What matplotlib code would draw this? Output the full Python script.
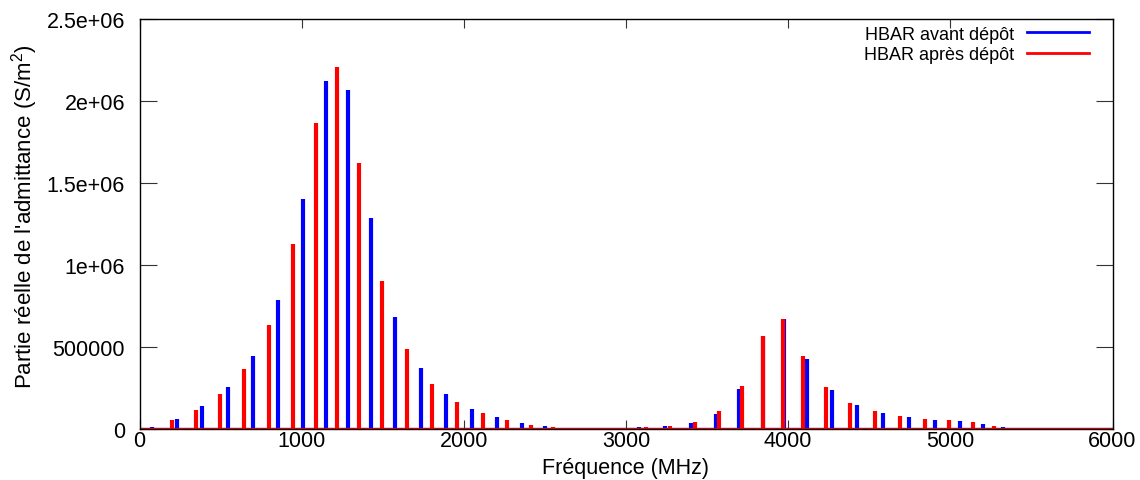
import matplotlib
matplotlib.use("Agg")
import matplotlib.pyplot as plt
from matplotlib.lines import Line2D

plt.rcParams['font.family'] = ['Liberation Sans', 'DejaVu Sans']
plt.rcParams['mathtext.fontset'] = 'custom'
plt.rcParams['mathtext.rm'] = 'Liberation Sans'
plt.rcParams['mathtext.it'] = 'Liberation Sans:italic'

# ---- data ----
freq_avant = [75, 231, 384, 544, 698, 856, 1006, 1148, 1284, 1426, 1576, 1733,
              1890, 2049, 2206, 2359, 2500, 2634, 3080, 3240, 3399, 3555, 3699,
              3843, 3976, 4114, 4268, 4424, 4583, 4745, 4905, 5059, 5203, 5327,
              5460, 5615]
adm_avant = [0.010e6, 0.060e6, 0.138e6, 0.255e6, 0.443e6, 0.789e6, 1.402e6,
             2.124e6, 2.069e6, 1.288e6, 0.684e6, 0.370e6, 0.212e6, 0.124e6,
             0.073e6, 0.036e6, 0.016e6, 0.006e6, 0.010e6, 0.020e6, 0.035e6,
             0.091e6, 0.243e6, 0.566e6, 0.669e6, 0.425e6, 0.238e6, 0.146e6,
             0.099e6, 0.073e6, 0.056e6, 0.049e6, 0.032e6, 0.014e6, 0.005e6,
             0.003e6]

freq_apres = [202, 347, 495, 644, 797, 945, 1087, 1218, 1352, 1498, 1648, 1802,
              1960, 2116, 2268, 2414, 2548, 2685, 3123, 3271, 3425, 3573, 3715,
              3845, 3966, 4093, 4235, 4382, 4534, 4690, 4842, 4994, 5138, 5269,
              5393]
adm_apres = [0.053e6, 0.113e6, 0.212e6, 0.368e6, 0.637e6, 1.129e6, 1.863e6,
             2.209e6, 1.622e6, 0.904e6, 0.487e6, 0.273e6, 0.164e6, 0.097e6,
             0.056e6, 0.026e6, 0.012e6, 0.005e6, 0.010e6, 0.020e6, 0.042e6,
             0.107e6, 0.265e6, 0.568e6, 0.673e6, 0.447e6, 0.257e6, 0.160e6,
             0.107e6, 0.081e6, 0.063e6, 0.053e6, 0.041e6, 0.020e6, 0.006e6]

x_ticks = [0, 1000, 2000, 3000, 4000, 5000, 6000]
y_ticks = [0, 500000, 1000000, 1500000, 2000000, 2500000]
y_tick_labels = ["0", "500000", "1e+06", "1.5e+06", "2e+06", "2.5e+06"]

label_avant = "HBAR avant dépôt"
label_apres = "HBAR après dépôt"
xlabel = "Fréquence (MHz)"
ylabel = "Partie réelle de l'admittance (S/m$^2$)"

BLUE = "#0000ff"
RED = "#ff0000"
FS = 15.5

# ---- figure ----
W, H = 1140, 481
fig = plt.figure(figsize=(W / 100, H / 100), dpi=100)
ax = fig.add_axes([139.5 / W, 1 - 430 / H, (1112.5 - 139.5) / W, (430 - 20) / H])

ax.axhline(0, color=BLUE, lw=1.6, zorder=2)
ax.vlines(freq_avant, 0, adm_avant, color=BLUE, lw=3.0, capstyle='butt', zorder=2)
ax.axhline(0, color=RED, lw=1.6, zorder=3)
ax.vlines(freq_apres, 0, adm_apres, color=RED, lw=3.0, capstyle='butt', zorder=3)

ax.set_xlim(0, 6000)
ax.set_ylim(0, 2.5e6)
ax.set_xticks(x_ticks)
ax.set_xticklabels([str(v) for v in x_ticks])
ax.set_yticks(y_ticks)
ax.set_yticklabels(y_tick_labels)

ax.tick_params(axis='both', direction='in', top=True, right=True,
               labelsize=FS, width=0.8, color='#333333')
ax.tick_params(axis='x', length=6.8, pad=1.0)
ax.tick_params(axis='y', length=12.2, pad=10.4)
for sp in ax.spines.values():
    sp.set_linewidth(1.0)
    sp.set_color('black')
    sp.set_zorder(5)

ax.set_xlabel(xlabel, fontsize=FS, labelpad=4.0)
ax.set_ylabel(ylabel, fontsize=16)
ax.yaxis.set_label_coords((39.6 - 139.5) / 973, 0.52)

handles = [Line2D([], [], color=BLUE, lw=2), Line2D([], [], color=RED, lw=2)]
ax.legend(handles, [label_avant, label_apres], loc='upper right',
          bbox_to_anchor=(1088.5 / W, 1 - 26.5 / H), bbox_transform=fig.transFigure,
          frameon=False, markerfirst=False, fontsize=13, handlelength=3.38,
          handletextpad=0.72, labelspacing=0.2, borderpad=0, borderaxespad=0)

fig.savefig("out.png", dpi=100)
